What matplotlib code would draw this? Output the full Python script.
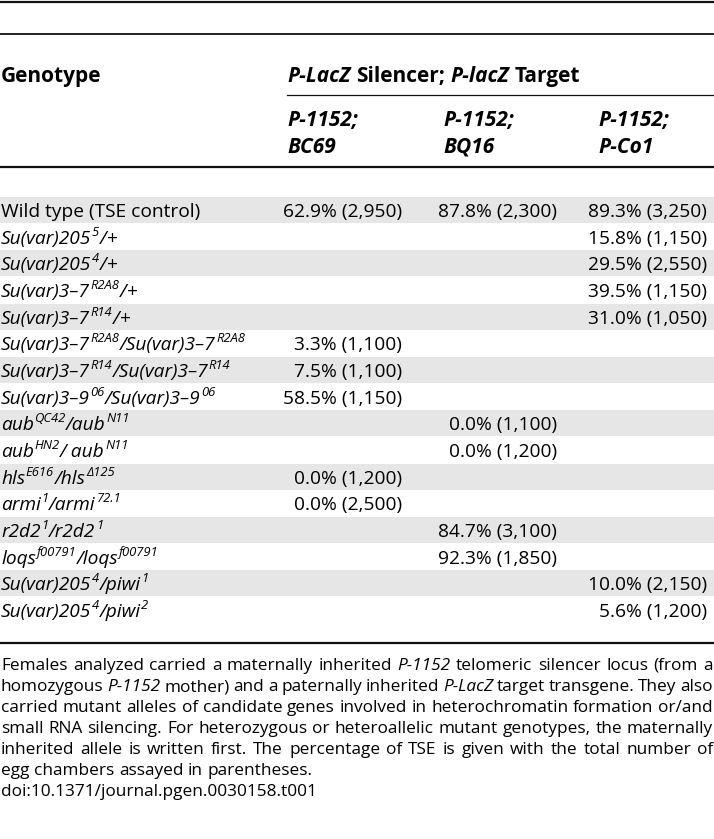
import re
import matplotlib.pyplot as plt
from matplotlib.patches import Rectangle

W, H = 714, 839
FONT = 'Open Sans'

# genotype labels: ^{..} = superscript, "+" stays upright
genotypes = [
    "Wild type (TSE control)",
    "Su(var)205^{5}/+",
    "Su(var)205^{4}/+",
    "Su(var)3–7^{R2A8}/+",
    "Su(var)3–7^{R14}/+",
    "Su(var)3–7^{R2A8}/Su(var)3–7^{R2A8}",
    "Su(var)3–7^{R14}/Su(var)3–7^{R14}",
    "Su(var)3–9^{06}/Su(var)3–9^{06}",
    "aub^{QC42}/aub^{N11}",
    "aub^{HN2}/ aub^{N11}",
    "hls^{E616}/hls^{Δ125}",
    "armi^{1}/armi^{72.1}",
    "r2d2^{1}/r2d2^{1}",
    "loqs^{f00791}/loqs^{f00791}",
    "Su(var)205^{4}/piwi^{1}",
    "Su(var)205^{4}/piwi^{2}",
]

# % TSE and number of egg chambers for each target
bc69_pct = [62.9, None, None, None, None, 3.3, 7.5, 58.5, None, None, 0.0, 0.0, None, None, None, None]
bc69_n = [2950, None, None, None, None, 1100, 1100, 1150, None, None, 1200, 2500, None, None, None, None]
bq16_pct = [87.8, None, None, None, None, None, None, None, 0.0, 0.0, None, None, 84.7, 92.3, None, None]
bq16_n = [2300, None, None, None, None, None, None, None, 1100, 1200, None, None, 3100, 1850, None, None]
pco1_pct = [89.3, 15.8, 29.5, 39.5, 31.0, None, None, None, None, None, None, None, None, None, 10.0, 5.6]
pco1_n = [3250, 1150, 2550, 1150, 1050, None, None, None, None, None, None, None, None, None, 2150, 1200]

col_head1 = ["P-1152;", "P-1152;", "P-1152;"]
col_head2 = ["BC69", "BQ16", "P-Co1"]

caption_lines = [
    "Females analyzed carried a maternally inherited *P-1152* telomeric silencer locus (from a",
    "homozygous *P-1152* mother) and a paternally inherited *P-LacZ* target transgene. They also",
    "carried mutant alleles of candidate genes involved in heterochromatin formation or/and",
    "small RNA silencing. For heterozygous or heteroallelic mutant genotypes, the maternally",
    "inherited allele is written first. The percentage of TSE is given with the total number of",
    "egg chambers assayed in parentheses.",
    "doi:10.1371/journal.pgen.0030158.t001",
]

DATA_PT = 13.8
HEAD_PT = 15.0
CAP_PT = 12.4
SUP = 0.68

fig = plt.figure(figsize=(W / 100, H / 100), dpi=100)
ax = fig.add_axes([0, 0, 1, 1])
ax.set_xlim(0, W)
ax.set_ylim(H, 0)
ax.axis('off')
rend = fig.canvas.get_renderer()


def measure(s, **kw):
    t = ax.text(0, 0, s, fontfamily=FONT, **kw)
    w = t.get_window_extent(rend).width
    t.remove()
    return w


def draw_runs(x, y, runs, size, weight='normal'):
    # runs: (text, style, superscript?)
    for s, style, sup in runs:
        fs = size * SUP if sup else size
        dy = -size * 0.42 * 100 / 72 if sup else 0
        ax.text(x, y + dy, s, fontsize=fs, fontstyle=style, fontweight=weight,
                fontfamily=FONT, va='baseline', ha='left')
        x += measure(s, fontsize=fs, fontstyle=style, fontweight=weight) + 0.6


def parse_genotype(label, italic=True):
    style = 'italic' if italic else 'normal'
    runs = []
    for p in re.split(r'(\^\{[^}]*\}|\+)', label):
        if not p:
            continue
        if p.startswith('^{'):
            runs.append((p[2:-1], 'italic', True))
        elif p == '+':
            runs.append(('+', 'normal', False))
        else:
            runs.append((p, style, False))
    return runs


def draw_words(x, y, words, size, weight='normal', right=None):
    # words: (text, style); justified to `right` if given
    ws = [measure(s, fontsize=size, fontstyle=st, fontweight=weight) for s, st in words]
    space = measure('a a', fontsize=size, fontweight=weight) - measure('aa', fontsize=size, fontweight=weight)
    gap = space
    if right is not None and len(words) > 1:
        gap = max((right - x - sum(ws)) / (len(words) - 1), space * 0.8)
    for (s, st), w in zip(words, ws):
        ax.text(x, y, s, fontsize=size, fontstyle=st, fontweight=weight,
                fontfamily=FONT, va='baseline', ha='left')
        x += w + gap


# rules
ax.plot([0, W], [1.5, 1.5], color='#111', lw=1.6)
ax.plot([0, W], [34, 34], color='#111', lw=1.3)
ax.plot([287, W], [95, 95], color='#111', lw=0.9)
ax.plot([0, W], [167, 167], color='#111', lw=1.6)
ax.plot([0, W], [643, 643], color='#111', lw=1.6)

# header
ax.text(1, 82, "Genotype", fontsize=HEAD_PT, fontweight='bold', fontfamily=FONT, va='baseline')
draw_words(287, 82, [("P-LacZ", 'italic'), ("Silencer;", 'normal'),
                     ("P-lacZ", 'italic'), ("Target", 'normal')], HEAD_PT, weight='bold')
col_left = [287, 443, 598]
col_right = [402, 557, 707]
for xl, h1, h2 in zip(col_left, col_head1, col_head2):
    ax.text(xl, 126, h1, fontsize=HEAD_PT, fontweight='bold', fontstyle='italic',
            fontfamily=FONT, va='baseline')
    ax.text(xl, 153, h2, fontsize=HEAD_PT, fontweight='bold', fontstyle='italic',
            fontfamily=FONT, va='baseline')

# body rows
ROW_TOP, ROW_H = 197, 26.67
columns = [(bc69_pct, bc69_n), (bq16_pct, bq16_n), (pco1_pct, pco1_n)]
for i, g in enumerate(genotypes):
    top = ROW_TOP + i * ROW_H
    if i % 2 == 0:
        ax.add_patch(Rectangle((0, top), W, ROW_H - 0.6, facecolor='#e6e6e6', edgecolor='none'))
    base = top + 20
    draw_runs(1, base, parse_genotype(g, italic=(i > 0)), DATA_PT)
    for xr, (pct, n) in zip(col_right, columns):
        if pct[i] is not None:
            ax.text(xr, base, f"{pct[i]:.1f}% ({n[i]:,})", fontsize=DATA_PT,
                    fontfamily=FONT, va='baseline', ha='right')

# caption
CAP_TOP, CAP_LH = 670, 21
for k, line in enumerate(caption_lines):
    words = []
    for w in line.split(' '):
        if w.startswith('*'):
            words.append((w.strip('*'), 'italic'))
        else:
            words.append((w, 'normal'))
    justify = 713 if k < 5 else None
    draw_words(1, CAP_TOP + k * CAP_LH, words, CAP_PT, right=justify)

fig.savefig('out.png', dpi=100)
